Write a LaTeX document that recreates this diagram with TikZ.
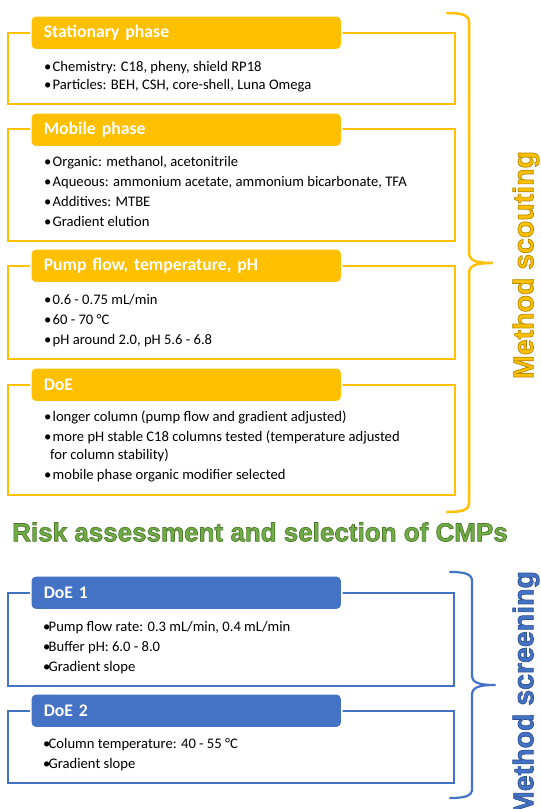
\documentclass[tikz,border=0pt]{standalone}
\usepackage{fontspec}
\setmainfont{Carlito}
\newfontfamily\arialbold[BoldFont=*]{Liberation Sans Bold}
\definecolor{gold}{HTML}{FFC000}
\definecolor{steel}{HTML}{4472C4}
\definecolor{leaf}{HTML}{70AD47}
% filled text with a thin stroked contour (rendering mode 2)
\newcommand\contourtext[2]{\special{pdf:literal direct #1 RG 0.7 w 2 Tr}#2\special{pdf:literal direct 0 Tr}}
\tikzset{
  goldframe/.style={draw=gold, line width=1.5pt, anchor=north west, inner sep=0pt},
  steelframe/.style={draw=steel, line width=1.5pt, anchor=north west, inner sep=0pt},
  headbox/.style={rounded corners=5pt, draw=white, line width=1.5pt, anchor=north west,
    minimum width=311pt, minimum height=34pt, text width=285pt, inner xsep=13pt, align=left,
    text=white, font=\fontsize{17.7}{20}\bfseries\selectfont},
  goldhead/.style={headbox, fill=gold},
  steelhead/.style={headbox, fill=steel},
  itemline/.style={anchor=base west, inner sep=0pt, font=\fontsize{14.6}{16}\selectfont},
  brace/.style={line width=2.5pt, line cap=round, line join=round},
}
\newcommand\goldbul{\makebox[8.5pt][l]{\textbullet}}
\newcommand\steelbul{\makebox[5.5pt][l]{\textbullet}}
\begin{document}
\begin{tikzpicture}[x=1pt,y=-1pt]
\useasboundingbox (0,0) rectangle (541,809);

% ---- method scouting: four framed groups ----
\node[goldframe, minimum width=447pt, minimum height=71pt] (fst) at (7,32) {};
\node[goldhead] (hst) at (30,15) {Stationary phase};
\node[itemline] (st1) at (44,71) {\goldbul Chemistry: C18, pheny, shield RP18};
\node[itemline] (st2) at (44,89.5) {\goldbul Particles: BEH, CSH, core-shell, Luna Omega};

\node[goldframe, minimum width=447pt, minimum height=112pt] (fmo) at (7,128) {};
\node[goldhead] (hmo) at (30,112) {Mobile phase};
\node[itemline] (mo1) at (44,166) {\goldbul Organic: methanol, acetonitrile};
\node[itemline] (mo2) at (44,186) {\goldbul Aqueous: ammonium acetate, ammonium bicarbonate, TFA};
\node[itemline] (mo3) at (44,206) {\goldbul Additives: MTBE};
\node[itemline] (mo4) at (44,226) {\goldbul Gradient elution};

\node[goldframe, minimum width=447pt, minimum height=93pt] (fpu) at (7,265) {};
\node[goldhead] (hpu) at (30,248) {Pump flow, temperature, pH};
\node[itemline] (pu1) at (44,304) {\goldbul 0.6 - 0.75 mL/min};
\node[itemline] (pu2) at (44,324) {\goldbul 60 - 70 °C};
\node[itemline] (pu3) at (44,344) {\goldbul pH around 2.0, pH 5.6 - 6.8};

\node[goldframe, minimum width=447pt, minimum height=110pt] (fdo) at (7,384) {};
\node[goldhead] (hdo) at (30,367) {DoE};
\node[itemline] (do1) at (44,421) {\goldbul longer column (pump flow and gradient adjusted)};
\node[itemline] (do2) at (44,441) {\goldbul more pH stable C18 columns tested (temperature adjusted};
\node[itemline] (do3) at (50,459) {for column stability)};
\node[itemline] (do4) at (44,479) {\goldbul mobile phase organic modifier selected};

% ---- method screening: two framed groups ----
\node[steelframe, minimum width=446pt, minimum height=93pt] (fd1) at (7,592) {};
\node[steelhead] (hd1) at (30,575) {DoE 1};
\node[itemline] (d11) at (43,631) {\steelbul Pump flow rate: 0.3 mL/min, 0.4 mL/min};
\node[itemline] (d12) at (43,651) {\steelbul Buffer pH: 6.0 - 8.0};
\node[itemline] (d13) at (43,671) {\steelbul Gradient slope};

\node[steelframe, minimum width=446pt, minimum height=72pt] (fd2) at (7,710) {};
\node[steelhead] (hd2) at (30,693) {DoE 2};
\node[itemline] (d21) at (43,748) {\steelbul Column temperature: 40 - 55 °C};
\node[itemline] (d22) at (43,768) {\steelbul Gradient slope};

% ---- braces ----
\coordinate (gtop) at (447,13);
\coordinate (gtip) at (492,263);
\coordinate (gbot) at (447,512);
\draw[brace, gold] (gtop) .. controls (462,13) and (469,15) .. (469,22)
  -- (469,252) .. controls (469,260) and (474,263) .. (gtip)
  .. controls (474,263) and (469,266) .. (469,274)
  -- (469,503) .. controls (469,510) and (462,512) .. (gbot);

\coordinate (btop) at (450,572);
\coordinate (btip) at (495,685);
\coordinate (bbot) at (450,798);
\draw[brace, steel, line width=2.2pt] (btop) .. controls (465,572) and (472,574) .. (472,581)
  -- (472,675) .. controls (472,682) and (477,685) .. (btip)
  .. controls (477,685) and (472,688) .. (472,695)
  -- (472,789) .. controls (472,796) and (465,798) .. (bbot);

% ---- labels ----
\node[rotate=90, text=gold, font=\fontsize{28.5}{32}\arialbold] (scout) at (526,265)
  {\contourtext{0.69 0.53 0}{Method scouting}};
\node[rotate=90, text=steel, font=\fontsize{28.5}{32}\arialbold] (screen) at (526,693)
  {\contourtext{0.18 0.32 0.56}{Method screening}};
\node[text=leaf, font=\fontsize{26}{30}\arialbold] (risk) at (260,532)
  {\contourtext{0.31 0.48 0.18}{Risk assessment and selection of CMPs}};
\end{tikzpicture}
\end{document}
